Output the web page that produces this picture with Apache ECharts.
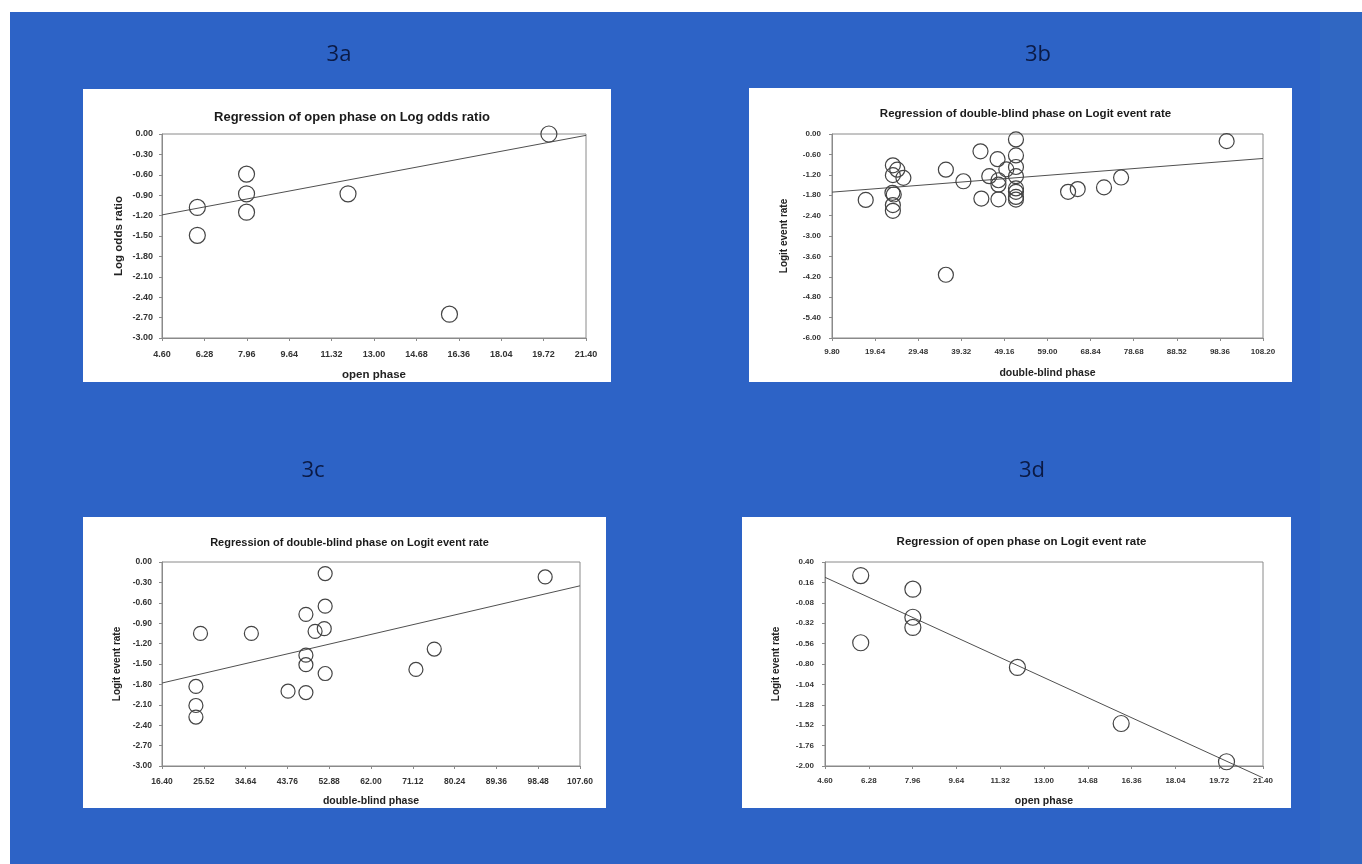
<!DOCTYPE html>
<html><head><meta charset="utf-8">
<script src="https://cdn.jsdelivr.net/npm/echarts@6/dist/echarts.min.js"></script>
<style>html,body{margin:0;padding:0;background:#fff}#c{width:1362px;height:864px}</style>
</head><body><div id="c"></div>
<script>
// ---------- DATA ----------
// Panel 3a: open phase vs Log odds ratio
const aX = [6.0, 6.0, 7.95, 7.95, 7.95, 11.97, 15.99, 19.93];
const aY = [-1.08, -1.49, -0.59, -0.88, -1.15, -0.88, -2.65, 0.00];
const aLineX = [4.6, 21.4];
const aLineY = [-1.19, -0.02];
const aXTicks = [4.60, 6.28, 7.96, 9.64, 11.32, 13.00, 14.68, 16.36, 18.04, 19.72, 21.40];
const aYTicks = [0.00, -0.30, -0.60, -0.90, -1.20, -1.50, -1.80, -2.10, -2.40, -2.70, -3.00];

// Panel 3b: double-blind phase vs Logit event rate
const bX = [17.5, 23.7, 24.7, 23.7, 26.1, 23.6, 23.9, 23.7, 23.7, 35.8, 35.8, 39.8, 43.7, 43.9, 45.7, 47.6, 47.8, 47.8, 47.8, 49.6,
            51.8, 51.8, 51.8, 51.8, 51.8, 51.8, 51.8, 51.8, 63.7, 65.9, 71.9, 75.8, 99.9];
const bY = [-1.94, -0.92, -1.05, -1.21, -1.29, -1.73, -1.78, -2.09, -2.26, -1.05, -4.14, -1.39, -0.51, -1.90, -1.24, -0.74, -1.36, -1.49, -1.92, -1.04,
            -0.16, -0.63, -0.97, -1.24, -1.60, -1.70, -1.85, -1.93, -1.70, -1.62, -1.57, -1.28, -0.21];
const bLineX = [9.8, 108.2];
const bLineY = [-1.71, -0.72];
const bXTicks = [9.80, 19.64, 29.48, 39.32, 49.16, 59.00, 68.84, 78.68, 88.52, 98.36, 108.20];
const bYTicks = [0.00, -0.60, -1.20, -1.80, -2.40, -3.00, -3.60, -4.20, -4.80, -5.40, -6.00];

// Panel 3c: double-blind phase vs Logit event rate
const cX = [24.8, 23.8, 23.8, 23.8, 35.9, 43.9, 47.8, 47.8, 47.8, 47.8, 49.8, 51.8, 52.0, 52.0, 52.0, 71.8, 75.8, 100.0];
const cY = [-1.05, -1.83, -2.11, -2.28, -1.05, -1.90, -0.77, -1.37, -1.51, -1.92, -1.02, -0.98, -0.17, -0.65, -1.64, -1.58, -1.28, -0.22];
const cLineX = [16.4, 107.6];
const cLineY = [-1.78, -0.35];
const cXTicks = [16.40, 25.52, 34.64, 43.76, 52.88, 62.00, 71.12, 80.24, 89.36, 98.48, 107.60];
const cYTicks = [0.00, -0.30, -0.60, -0.90, -1.20, -1.50, -1.80, -2.10, -2.40, -2.70, -3.00];

// Panel 3d: open phase vs Logit event rate
const dX = [5.97, 5.97, 7.97, 7.97, 7.97, 11.98, 15.96, 20.0];
const dY = [0.24, -0.55, 0.08, -0.25, -0.37, -0.84, -1.50, -1.95];
const dLineX = [4.6, 21.4];
const dLineY = [0.22, -2.14];
const dXTicks = [4.60, 6.28, 7.96, 9.64, 11.32, 13.00, 14.68, 16.36, 18.04, 19.72, 21.40];
const dYTicks = [0.40, 0.16, -0.08, -0.32, -0.56, -0.80, -1.04, -1.28, -1.52, -1.76, -2.00];

const panelLabels = ['3a', '3b', '3c', '3d'];
const titles = [
  'Regression of open phase on Log odds ratio',
  'Regression of double-blind phase on Logit event rate',
  'Regression of double-blind phase on Logit event rate',
  'Regression of open phase on Logit event rate'
];
const xNames = ['open phase', 'double-blind phase', 'double-blind phase', 'open phase'];
const yNames = ['Log odds ratio', 'Logit event rate', 'Logit event rate', 'Logit event rate'];

// ---------- LAYOUT ----------
const panels = [
  {xs: aX, ys: aY, lx: aLineX, ly: aLineY, xt: aXTicks, yt: aYTicks,
   box: [83, 89, 528, 293], grid: [162, 134, 424, 204], titleY: 106, titleSize: 13,
   xGap: 31, yGap: 37, xLm: 12, yLm: 9, sym: 16, clip: true, nameSize: 11.5, yNameSize: 11.5,
   tickSize: 9, label: [339, 55]},
  {xs: bX, ys: bY, lx: bLineX, ly: bLineY, xt: bXTicks, yt: bYTicks,
   box: [749, 88, 543, 294], grid: [832, 134, 431, 204], titleY: 103, titleSize: 11.5,
   xGap: 30, yGap: 43, xLm: 10, yLm: 11, sym: 15, clip: true, nameSize: 10.5, yNameSize: 10,
   tickSize: 8, label: [1038, 55]},
  {xs: cX, ys: cY, lx: cLineX, ly: cLineY, xt: cXTicks, yt: cYTicks,
   box: [83, 517, 523, 291], grid: [162, 562, 418, 204], titleY: 532, titleSize: 11,
   xGap: 30, yGap: 40, xLm: 11, yLm: 10, sym: 14, clip: true, nameSize: 10.5, yNameSize: 10,
   tickSize: 8.5, label: [313, 471]},
  {xs: dX, ys: dY, lx: dLineX, ly: dLineY, xt: dXTicks, yt: dYTicks,
   box: [742, 517, 549, 291], grid: [825, 562, 438, 204], titleY: 531, titleSize: 11.5,
   xGap: 30, yGap: 44, xLm: 11, yLm: 11, sym: 16, clip: false, nameSize: 10.5, yNameSize: 10,
   tickSize: 8, label: [1032, 471]}
];

const FONT = '"Liberation Sans", Arial, sans-serif';
const fmt = v => (Math.abs(v) < 1e-9 ? 0 : v).toFixed(2);

const graphic = [
  {type: 'rect', shape: {x: 10, y: 12, width: 1352, height: 852}, style: {fill: '#2d63c6'}, silent: true, z: -10},
  {type: 'rect', shape: {x: 1320, y: 12, width: 42, height: 852}, style: {fill: '#3067c2'}, silent: true, z: -9}
];
const grid = [], xAxis = [], yAxis = [], series = [], title = [];

panels.forEach((p, i) => {
  graphic.push({type: 'rect', shape: {x: p.box[0], y: p.box[1], width: p.box[2], height: p.box[3]},
    style: {fill: '#ffffff'}, silent: true, z: -5});
  graphic.push({type: 'text', x: p.label[0], y: p.label[1], silent: true, z: -4,
    style: {text: panelLabels[i], fill: '#0b1a45', font: '22px "Open Sans", sans-serif',
      textAlign: 'center', textVerticalAlign: 'middle'}});
  title.push({text: titles[i], left: p.box[0] + p.box[2] / 2, top: p.titleY, textAlign: 'center',
    textStyle: {fontFamily: FONT, fontWeight: 'bold', fontSize: p.titleSize, color: '#1a1a1a'}});
  grid.push({left: p.grid[0], top: p.grid[1], width: p.grid[2], height: p.grid[3],
    show: true, borderColor: '#8a8a8a', borderWidth: 1, backgroundColor: 'transparent',
    containLabel: false, outerBoundsMode: 'none'});
  const axisCommon = {
    axisLine: {show: true, onZero: false, lineStyle: {color: '#8a8a8a', width: 1}},
    axisTick: {show: true, inside: false, length: 3, lineStyle: {color: '#8a8a8a'}},
    splitLine: {show: false},
    nameLocation: 'middle',
  };
  xAxis.push(Object.assign({}, axisCommon, {
    type: 'value', gridIndex: i, min: p.xt[0], max: p.xt[p.xt.length - 1],
    name: xNames[i], nameGap: p.xGap,
    nameTextStyle: {fontFamily: FONT, fontWeight: 'bold', fontSize: p.nameSize, color: '#222'},
    axisTick: Object.assign({}, axisCommon.axisTick, {customValues: p.xt}),
    axisLabel: {customValues: p.xt, formatter: fmt, margin: p.xLm, fontFamily: FONT,
      fontWeight: 'bold', fontSize: p.tickSize, color: '#333', showMinLabel: true, showMaxLabel: true}
  }));
  const ymin = Math.min.apply(null, p.yt), ymax = Math.max.apply(null, p.yt);
  yAxis.push(Object.assign({}, axisCommon, {
    type: 'value', gridIndex: i, min: ymin, max: ymax,
    name: yNames[i], nameGap: p.yGap, nameRotate: 90,
    nameTextStyle: {fontFamily: FONT, fontWeight: 'bold', fontSize: p.yNameSize, color: '#222'},
    axisTick: Object.assign({}, axisCommon.axisTick, {customValues: p.yt}),
    axisLabel: {customValues: p.yt, formatter: fmt, margin: p.yLm, fontFamily: FONT,
      fontWeight: 'bold', fontSize: p.tickSize, color: '#333', showMinLabel: true, showMaxLabel: true}
  }));
  series.push({
    type: 'line', xAxisIndex: i, yAxisIndex: i,
    data: p.lx.map((x, k) => [x, p.ly[k]]),
    showSymbol: false, symbol: 'none', clip: p.clip, silent: true,
    lineStyle: {color: '#505050', width: 1}, z: 2
  });
  series.push({
    type: 'scatter', xAxisIndex: i, yAxisIndex: i,
    data: p.xs.map((x, k) => [x, p.ys[k]]),
    symbol: 'circle', symbolSize: p.sym, clip: false,
    itemStyle: {color: 'rgba(255,255,255,0)', borderColor: '#444', borderWidth: 1.2, opacity: 1},
    z: 3
  });
});

const chart = echarts.init(document.getElementById('c'), null, {renderer: 'canvas'});
chart.setOption({
  backgroundColor: '#ffffff',
  animation: false,
  graphic: graphic,
  title: title,
  grid: grid,
  xAxis: xAxis,
  yAxis: yAxis,
  series: series
});
</script>
</body></html>
